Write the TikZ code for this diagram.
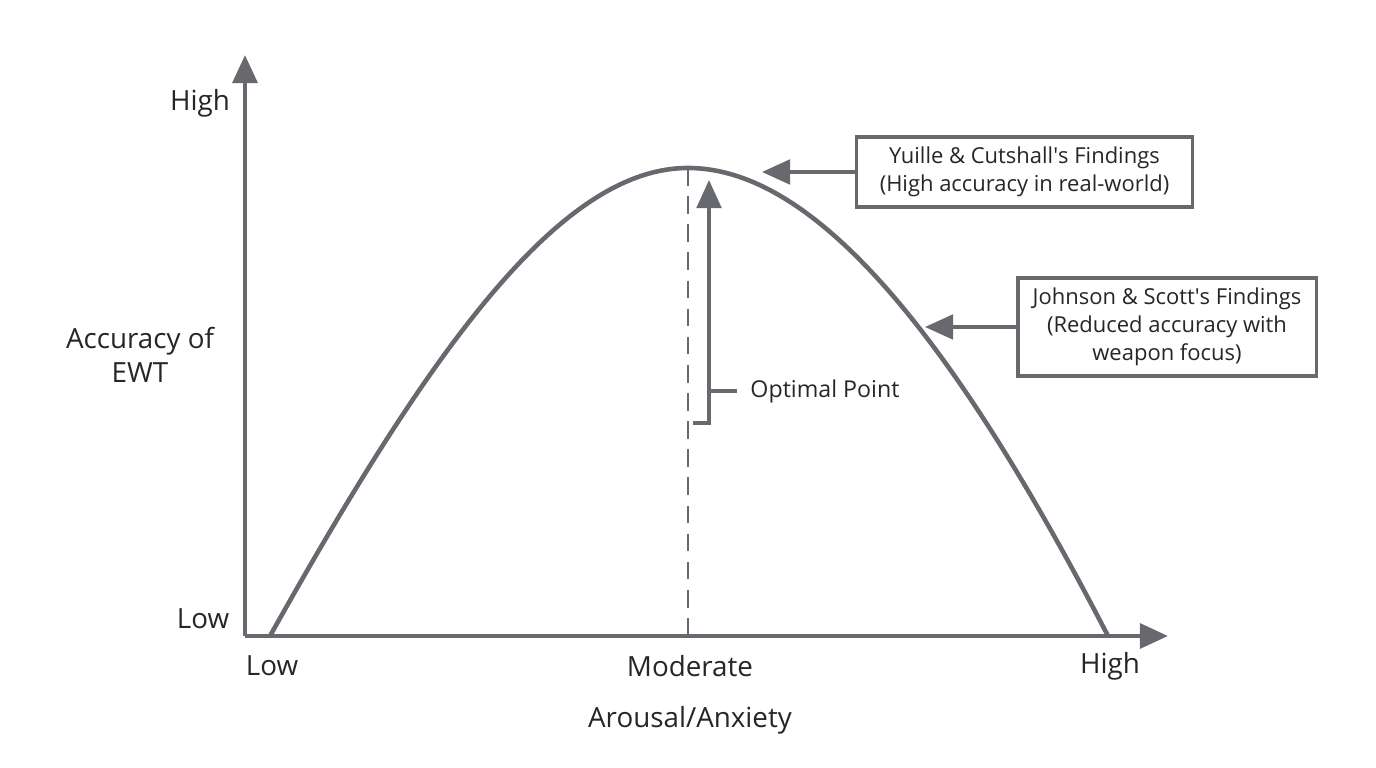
\documentclass[tikz,border=0pt]{standalone}
\usepackage{fontspec}
\setmainfont{Open Sans}
\usetikzlibrary{arrows.meta,positioning}
\definecolor{axisgray}{RGB}{104,105,110}
\begin{document}
\begin{tikzpicture}[x=0.01cm,y=-0.01cm,
    line/.style={axisgray, line width=1.3pt},
    tip/.style={-{Triangle[length=8pt,width=7pt]}},
    lbl/.style={font=\fontsize{7.9}{9.6}\selectfont, text=black!85},
    box/.style={draw=axisgray, line width=0.9pt, align=center, inner sep=2pt, font=\fontsize{6.25}{8}\selectfont, text=black!85}]
        \useasboundingbox (0,0) rectangle (1376,768);
        % axes
        \coordinate (O) at (245,636);
        \coordinate (ytop) at (245,55);
        \coordinate (xend) at (1168,636);
        \draw[line, tip] (O) -- (ytop);
        \draw[line, tip] (O) -- (xend);
        % curve
        \coordinate (start) at (270,636);
        \coordinate (peak) at (688,168);
        \coordinate (stop) at (1108,636);
        \draw[line] (start) .. controls (430,350) and (560,168) .. (peak)
            .. controls (820,168) and (960,350) .. (stop);
        \draw[axisgray, line width=0.8pt, dash pattern=on 5pt off 3pt] (peak) -- (688,636);
        % optimal point
        \coordinate (foot) at (693,423);
        \coordinate (corner) at (709,423);
        \coordinate (head) at (709,180);
        \coordinate (tick) at (709,391);
        \draw[line, line width=1pt, tip] (foot) -- (corner) -- (head);
        \draw[line, line width=1pt] (tick) -- ++(28,0) node[lbl, anchor=west, font=\fontsize{6.6}{8}\selectfont] (opt) {Optimal Point};
        % labels
        \node[lbl] (yhigh) at (200,103) {High};
        \node[lbl] (ylow) at (203,619) {Low};
        \node[lbl, align=center] (ylab) at (140,355) {Accuracy of\\EWT};
        \node[lbl] (xlow) at (272,666) {Low};
        \node[lbl] (xmod) at (690,666) {Moderate};
        \node[lbl] (xhigh) at (1110,666) {High};
        \node[lbl] (xlab) at (690,720) {Arousal/Anxiety};
        % findings
        \node[box, minimum width=3.35cm, minimum height=0.7cm] (yuille) at (1024.5,172) {Yuille \& Cutshall\textquotesingle s Findings\\(High accuracy in real-world)};
        \node[box, minimum width=2.98cm, minimum height=0.98cm] (johnson) at (1167,327) {Johnson \& Scott\textquotesingle s Findings\\(Reduced accuracy with\\weapon focus)};
        \coordinate (ya) at (762,172);
        \coordinate (ja) at (925,327);
        \draw[line, line width=1pt, tip] (yuille.west) -- (ya);
        \draw[line, line width=1pt, tip] (johnson.west) -- (ja);
\end{tikzpicture}
\end{document}
